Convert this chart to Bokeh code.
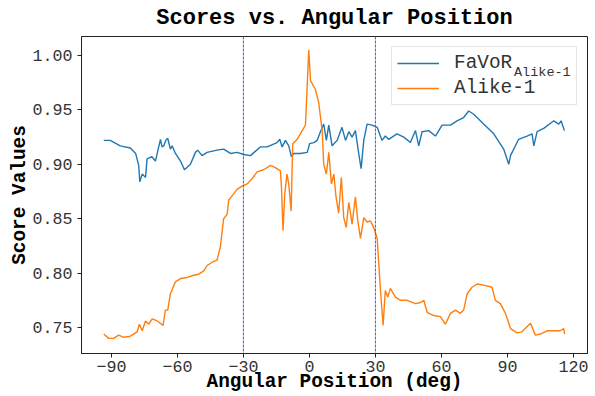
from bokeh.plotting import figure
from bokeh.models import Range1d, FixedTicker, Span, Label, Legend, LegendItem
from bokeh.embed import file_html
from bokeh.resources import INLINE

# ---- data ----
favor_x = [-93.5, -90.5, -86, -81.4, -79, -77.6, -77.1, -76, -74.5, -73.8, -71.6, -70, -68.5, -67.7,
           -67.0, -66.2, -65.3, -64.4, -63.2, -62.4, -60.9, -58.6, -56.8, -54.1, -51.8, -50.8, -48.8,
           -46.5, -42, -39, -35.9, -32.9, -29.8, -26.8, -22.3, -19.2, -14.7, -13.5, -12.4, -10.9,
           -9.4, -8.2, -7.1, -4.1, -1, 0.1, 2, 3.5, 5, 6.5, 7.7, 8.8, 10.3, 12.6, 14.8, 16.4, 17.9,
           19.4, 20.9, 22.4, 23.5, 24.7, 26.2, 28.5, 30.8, 33, 34.5, 36, 39.8, 42.9, 45.9, 48.2,
           49.7, 51.2, 54.2, 57.3, 60.3, 64.1, 67.1, 70.1, 72.4, 74.7, 79.2, 83.8, 88.3, 90.6, 91.4,
           95.1, 98.9, 101.2, 102, 103.5, 106.5, 111.1, 113.3, 114.4, 115.9]
favor_y = [0.922, 0.922, 0.917, 0.915, 0.910, 0.899, 0.884, 0.891, 0.888, 0.905, 0.907, 0.903, 0.916,
           0.923, 0.916, 0.917, 0.922, 0.924, 0.914, 0.917, 0.910, 0.903, 0.895, 0.900, 0.911, 0.913,
           0.908, 0.911, 0.913, 0.914, 0.910, 0.911, 0.909, 0.908, 0.916, 0.916, 0.920, 0.923, 0.916,
           0.922, 0.917, 0.907, 0.910, 0.910, 0.911, 0.919, 0.920, 0.922, 0.930, 0.937, 0.922, 0.936,
           0.917, 0.922, 0.934, 0.922, 0.930, 0.925, 0.931, 0.910, 0.896, 0.922, 0.937, 0.936, 0.934,
           0.922, 0.926, 0.923, 0.928, 0.925, 0.920, 0.931, 0.917, 0.930, 0.931, 0.926, 0.936, 0.936,
           0.940, 0.943, 0.949, 0.946, 0.937, 0.928, 0.914, 0.900, 0.908, 0.923, 0.926, 0.928, 0.917,
           0.930, 0.933, 0.940, 0.937, 0.940, 0.931]

alike_x = [-93.5, -91.2, -89, -86.7, -84.4, -81.4, -78.3, -77.3, -76, -74.5, -73, -71.5, -69.2, -66.5,
           -65.5, -64.4, -63.2, -60.9, -58.6, -55.6, -52.6, -50.3, -48, -46.5, -44.2, -42, -40.5, -39,
           -37.4, -36.7, -34.4, -32.9, -30.6, -28.3, -26, -23.8, -20.8, -17.7, -15.5, -13.2, -12.7,
           -12, -11.2, -10.2, -9.4, -8.3, -7.6, -5.6, -1.8, -0.3, 0.5, 2.7, 4.2, 5.8, 6.5, 7.7, 8.8,
           10, 11.1, 12.1, 13.3, 14.5, 15.6, 16.7, 17.9, 19.4, 20.9, 22, 23.2, 24.7, 26.2, 27.7, 29.2,
           30.8, 32.3, 33.5, 34.5, 35.6, 36.8, 39.1, 41.4, 44.4, 48.2, 50.5, 52, 53.5, 56.5, 59.5,
           61.8, 64.1, 66.4, 68.6, 70.1, 71.7, 73.9, 76.2, 79.2, 83, 84.5, 86.8, 89.1, 91.4, 94.4,
           96.6, 100.5, 102.7, 105, 108, 114, 115.6, 116]
alike_y = [0.744, 0.740, 0.740, 0.743, 0.741, 0.742, 0.746, 0.753, 0.747, 0.756, 0.753, 0.758, 0.756,
           0.752, 0.766, 0.766, 0.781, 0.792, 0.795, 0.796, 0.798, 0.799, 0.802, 0.807, 0.810, 0.812,
           0.824, 0.850, 0.854, 0.867, 0.873, 0.877, 0.880, 0.882, 0.887, 0.893, 0.895, 0.899, 0.897,
           0.894, 0.879, 0.839, 0.873, 0.891, 0.882, 0.857, 0.919, 0.923, 0.936, 1.005, 0.977, 0.969,
           0.957, 0.931, 0.900, 0.891, 0.911, 0.882, 0.891, 0.870, 0.855, 0.888, 0.851, 0.842, 0.865,
           0.845, 0.870, 0.848, 0.832, 0.851, 0.847, 0.848, 0.842, 0.832, 0.784, 0.752, 0.784, 0.778,
           0.786, 0.778, 0.775, 0.775, 0.772, 0.773, 0.775, 0.764, 0.761, 0.760, 0.753, 0.763, 0.766,
           0.763, 0.766, 0.781, 0.787, 0.790, 0.789, 0.787, 0.775, 0.772, 0.763, 0.749, 0.745, 0.746,
           0.754, 0.743, 0.744, 0.747, 0.747, 0.749, 0.744]

x_ticks = [-90, -60, -30, 0, 30, 60, 90, 120]
x_tick_labels = ["\u221290", "\u221260", "\u221230", "0", "30", "60", "90", "120"]
y_ticks = [0.75, 0.80, 0.85, 0.90, 0.95, 1.00]
y_tick_labels = ["0.75", "0.80", "0.85", "0.90", "0.95", "1.00"]
marker_angles = [-30, 30]

title_text = "Scores vs. Angular Position"
x_label_text = "Angular Position (deg)"
y_label_text = "Score Values"
series_names = ["FaVoR", "Alike-1"]
subscript_text = "Alike-1"

FONT = "Liberation Mono"
BLUE = "#1f77b4"
ORANGE = "#ff7f0e"

W, H = 595, 396
BL, BR, BT, BB = 81, 8, 36, 43
p = figure(width=W, height=H, output_backend="svg", toolbar_location=None,
           x_range=Range1d(-103.6, 126.4), y_range=Range1d(0.7261, 1.0175),
           min_border_left=BL, min_border_right=BR, min_border_top=BT, min_border_bottom=BB,
           title=title_text)
p.grid.visible = False
p.outline_line_color = "#222222"
p.outline_line_width = 1

p.title.text_font = FONT
p.title.text_font_size = "22px"
p.title.text_font_style = "bold"
p.title.text_color = "black"
p.title.align = "center"
p.title.vertical_align = "top"
p.title.standoff = 8

for ax, ticks, labels in ((p.xaxis[0], x_ticks, x_tick_labels), (p.yaxis[0], y_ticks, y_tick_labels)):
    ax.ticker = FixedTicker(ticks=ticks)
    ax.major_label_overrides = {t: l for t, l in zip(ticks, labels)}
    ax.major_label_text_font = FONT
    ax.major_label_text_font_size = "16.7px"
    ax.major_label_text_color = "#333333"
    ax.major_tick_out = 4
    ax.major_tick_in = 0
    ax.minor_tick_out = 0
    ax.minor_tick_in = 0
    ax.axis_line_color = "#222222"
    ax.major_tick_line_color = "#222222"
    ax.axis_label_text_font = FONT
    ax.axis_label_text_font_size = "19.4px"
    ax.axis_label_text_font_style = "bold"
    ax.axis_label_text_color = "black"
p.xaxis.axis_label = x_label_text
p.yaxis.axis_label = y_label_text
p.xaxis.major_label_standoff = 3
p.xaxis.axis_label_standoff = -4
p.yaxis.major_label_standoff = 5
p.yaxis.axis_label_standoff = -2

l_favor = p.line(favor_x, favor_y, line_color=BLUE, line_width=1.4)
l_alike = p.line(alike_x, alike_y, line_color=ORANGE, line_width=1.4)

for a in marker_angles:
    p.add_layout(Span(location=a, dimension="height", line_color="#5050ff", line_alpha=1.0,
                      line_width=1, line_dash="3 1"))

legend = Legend(items=[LegendItem(label=series_names[0], renderers=[l_favor]),
                       LegendItem(label=series_names[1], renderers=[l_alike])],
                location="top_right", margin=10, padding=5, spacing=3,
                glyph_width=42, glyph_height=22, label_height=22, label_width=117,
                label_standoff=15, label_text_font=FONT, label_text_font_size="19.4px",
                label_text_color="#333333", border_line_color="#cccccc", border_line_width=1,
                background_fill_alpha=0.0)
p.add_layout(legend, "center")

frame_h = H - BT - BB
p.add_layout(Label(x=432.5, y=frame_h - (71.5 - BT), x_units="screen", y_units="screen",
                   text=subscript_text, text_font=FONT, text_font_size="13.5px",
                   text_color="#333333", text_baseline="alphabetic", text_align="left"))

open("out.html", "w").write(file_html(p, INLINE))
